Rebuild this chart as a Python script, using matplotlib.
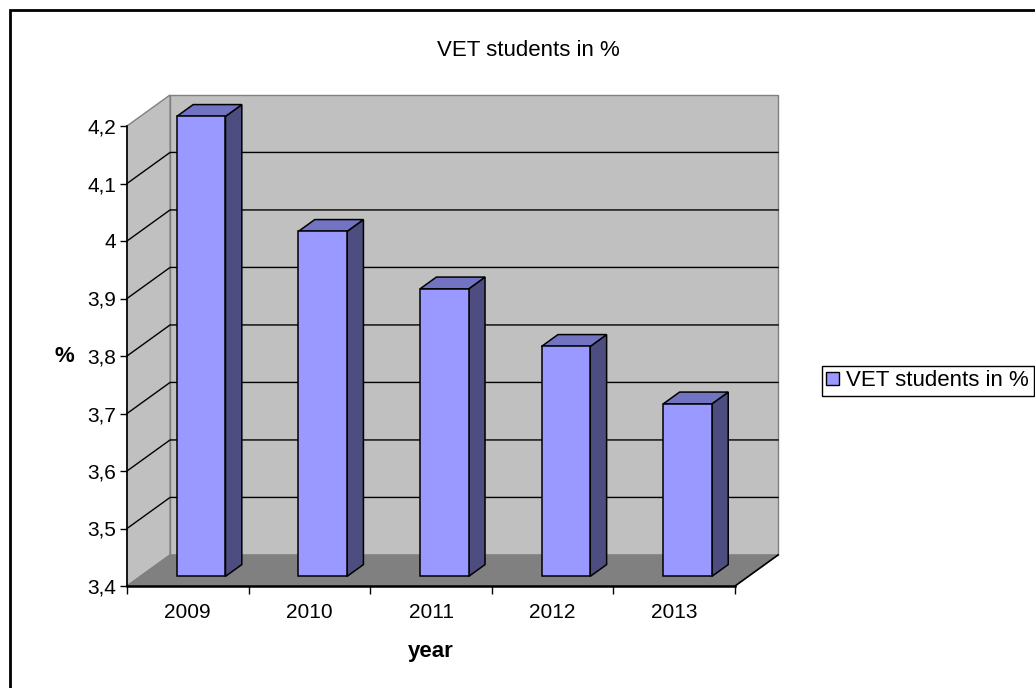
import matplotlib
matplotlib.use('Agg')
from matplotlib import pyplot as plt
from matplotlib.patches import Polygon, Rectangle, Patch

plt.rcParams['font.family'] = ['Liberation Sans', 'DejaVu Sans']

years = ['2009', '2010', '2011', '2012', '2013']
vet_share = [4.2, 4.0, 3.9, 3.8, 3.7]
y_ticks = [3.4, 3.5, 3.6, 3.7, 3.8, 3.9, 4.0, 4.1, 4.2]
series_name = 'VET students in %'

# oblique "3d" look: depth offset in data units
DX = 0.354
DY = 0.054
ymin, ymax = 3.4, 4.2
n = len(years)
bar_w = 0.40
z0, z1 = 0.31, 0.69   # front and back of the bars as fraction of depth

fig = plt.figure(figsize=(10.35, 6.88), dpi=100)
ax = fig.add_axes([127/1035, 102/688, 608/1035, 460/688])
ax.set_xlim(0, n)
ax.set_ylim(ymin, ymax)
ax.patch.set_visible(False)

wall = '#c0c0c0'
edge = '#808080'

# back wall
ax.add_patch(Polygon([(DX, ymin+DY), (n+DX, ymin+DY), (n+DX, ymax+DY), (DX, ymax+DY)],
                     closed=True, fc=wall, ec=edge, lw=1, clip_on=False, zorder=0))
# side wall
ax.add_patch(Polygon([(0, ymin), (DX, ymin+DY), (DX, ymax+DY), (0, ymax)],
                     closed=True, fc=wall, ec=edge, lw=1, clip_on=False, zorder=0))
# floor
ax.add_patch(Polygon([(0, ymin), (n, ymin), (n+DX, ymin+DY), (DX, ymin+DY)],
                     closed=True, fc='#808080', ec=edge, lw=1, clip_on=False, zorder=0.5))
ax.plot([n, n+DX], [ymin, ymin+DY], color='black', lw=1.2, clip_on=False, zorder=0.6)

# gridlines on side and back wall
for v in y_ticks[1:-1]:
    ax.plot([0, DX, n+DX], [v, v+DY, v+DY], color='black', lw=1, clip_on=False, zorder=0.6)

# bars
for i, v in enumerate(vet_share):
    xl = i + 0.5 - bar_w/2
    xr = i + 0.5 + bar_w/2
    fx, fy = z0*DX, z0*DY
    bx, by = z1*DX, z1*DY
    front = [(xl+fx, ymin+fy), (xr+fx, ymin+fy), (xr+fx, v+fy), (xl+fx, v+fy)]
    top = [(xl+fx, v+fy), (xr+fx, v+fy), (xr+bx, v+by), (xl+bx, v+by)]
    side = [(xr+fx, ymin+fy), (xr+bx, ymin+by), (xr+bx, v+by), (xr+fx, v+fy)]
    for pts, c in [(side, '#4d4d80'), (top, '#7373c4'), (front, '#9999ff')]:
        ax.add_patch(Polygon(pts, closed=True, fc=c, ec='black', lw=1.1,
                             clip_on=False, zorder=2, joinstyle='miter'))

for s in ['top', 'right']:
    ax.spines[s].set_visible(False)
ax.spines['left'].set_linewidth(1.2)
ax.spines['bottom'].set_linewidth(1.8)
ax.spines['left'].set_zorder(3)
ax.spines['bottom'].set_zorder(3)

ax.set_yticks(y_ticks)
ax.set_yticklabels([f'{v:g}'.replace('.', ',') for v in y_ticks])
ax.tick_params(axis='y', length=5, width=1, pad=3, labelsize=15)
ax.set_xticks(range(n + 1))
ax.set_xticklabels([''] * (n + 1))
ax.set_xticks([i + 0.5 for i in range(n)], minor=True)
ax.set_xticklabels(years, minor=True)
ax.tick_params(axis='x', which='major', length=6, width=1)
ax.tick_params(axis='x', which='minor', length=0, pad=12, labelsize=15)

ax.set_ylabel('%', fontsize=16, fontweight='bold', rotation=0, labelpad=16, va='center')
ax.set_xlabel('year', fontsize=16, fontweight='bold', labelpad=14)

fig.text(528/1035, 1 - 50/688, series_name, ha='center', va='center', fontsize=16)

leg = fig.legend(handles=[Patch(fc='#9999ff', ec='black', lw=1, label=series_name)],
                 loc='center left', bbox_to_anchor=(822/1035, 1 - 381/688),
                 bbox_transform=fig.transFigure, fontsize=16, fancybox=False,
                 framealpha=1, edgecolor='black', handlelength=0.55, handleheight=0.55,
                 handletextpad=0.35, borderpad=0.2, borderaxespad=0)
leg.get_frame().set_linewidth(1)

# chart area border
fig.add_artist(Rectangle((10/1035, -0.1), 1.2, 1.1 - 10/688, transform=fig.transFigure,
                         fill=False, ec='black', lw=2))

fig.savefig('out.png', dpi=100)
